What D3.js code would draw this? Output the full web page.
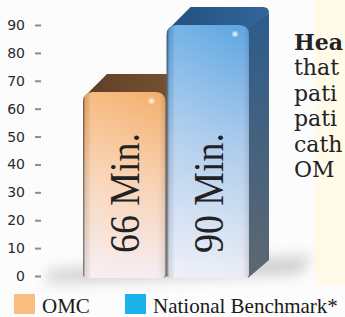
<!DOCTYPE html>
<html>
<head>
<meta charset="utf-8">
<script src="https://cdn.jsdelivr.net/npm/d3@7"></script>
<style>
  body { margin: 0; background: #fcfcfc; }
  svg { display: block; }
</style>
</head>
<body>
<div id="chart"></div>
<script>
// data
var categories = ["OMC", "National Benchmark*"];
var values = [66, 90];
var barLabels = ["66 Min.", "90 Min."];
var yTicks = [0, 10, 20, 30, 40, 50, 60, 70, 80, 90];
var sideText = [["Hea", true], ["that", false], ["pati", false], ["pati", false], ["cath", false], ["OM", false]];

var width = 345, height = 317;
var depth = [20, -18];

var svg = d3.select("#chart").append("svg")
    .attr("width", width)
    .attr("height", height);

var defs = svg.append("defs");

// background
svg.append("rect").attr("width", width).attr("height", height).attr("fill", "#fcfcfc");
svg.append("rect").attr("x", 315).attr("y", 0).attr("width", 30).attr("height", 285).attr("fill", "#fffbe8");

// scales
var x = d3.scaleBand().domain(categories).range([83, 249]).paddingInner(0.015);
var y = d3.scaleLinear().domain([0, 90]).range([276, 25]);

// color sets for each bar
var palette = {
    "OMC": {
        legend: "#f9bf80",
        front: ["#f5b06c", "#f8cfae", "#f6edf1"],
        top: ["#5e4028", "#7a5434"],
        side: ["#7a5434", "#6b5d58"]
    },
    "National Benchmark*": {
        legend: "#1cb2ea",
        front: ["#5ea6e2", "#a9c9ec", "#eceef6"],
        top: ["#23507e", "#31669a"],
        side: ["#2c5c8c", "#5e6870"]
    }
};

// gradients
categories.forEach(function(c, i) {
    var p = palette[c];
    var g = defs.append("linearGradient").attr("id", "front" + i)
        .attr("x1", 0).attr("y1", 0).attr("x2", 0).attr("y2", 1);
    g.append("stop").attr("offset", "0%").attr("stop-color", p.front[0]);
    g.append("stop").attr("offset", "45%").attr("stop-color", p.front[1]);
    g.append("stop").attr("offset", "100%").attr("stop-color", p.front[2]);

    var t = defs.append("linearGradient").attr("id", "top" + i)
        .attr("x1", 0).attr("y1", 0).attr("x2", 1).attr("y2", 0);
    t.append("stop").attr("offset", "0%").attr("stop-color", p.top[0]);
    t.append("stop").attr("offset", "100%").attr("stop-color", p.top[1]);

    var s = defs.append("linearGradient").attr("id", "side" + i)
        .attr("x1", 0).attr("y1", 0).attr("x2", 0).attr("y2", 1);
    s.append("stop").attr("offset", "0%").attr("stop-color", p.side[0]);
    s.append("stop").attr("offset", "100%").attr("stop-color", p.side[1]);
});

var edge = defs.append("linearGradient").attr("id", "edge")
    .attr("x1", 0).attr("y1", 0).attr("x2", 1).attr("y2", 0);
edge.append("stop").attr("offset", "0%").attr("stop-color", "#000").attr("stop-opacity", 0.55);
edge.append("stop").attr("offset", "3%").attr("stop-color", "#000").attr("stop-opacity", 0.08);
edge.append("stop").attr("offset", "10%").attr("stop-color", "#fff").attr("stop-opacity", 0.15);
edge.append("stop").attr("offset", "88%").attr("stop-color", "#fff").attr("stop-opacity", 0);
edge.append("stop").attr("offset", "100%").attr("stop-color", "#000").attr("stop-opacity", 0.12);

var blur = defs.append("filter").attr("id", "blur").attr("x", "-50%").attr("y", "-50%")
    .attr("width", "200%").attr("height", "200%");
blur.append("feGaussianBlur").attr("stdDeviation", 7);

var soft = defs.append("filter").attr("id", "soft");
soft.append("feGaussianBlur").attr("stdDeviation", 1.2);

// floor shadow
svg.append("path")
    .attr("d", "M50,270 L" + (x.range()[1] + 15) + ",258 L312,256 L300,274 L" + x.range()[0] + ",282 L45,282 Z")
    .attr("fill", "#8a8a8a")
    .attr("opacity", 0.4)
    .attr("filter", "url(#blur)");

// y axis
var yAxis = d3.axisLeft(y).tickValues(yTicks).tickSize(6).tickPadding(10);
var axisG = svg.append("g")
    .attr("transform", "translate(41,0)")
    .call(yAxis);
axisG.select(".domain").remove();
axisG.selectAll(".tick line").attr("stroke", "#8c8c8c").attr("stroke-width", 2);
axisG.selectAll(".tick text")
    .attr("fill", "#2a2a2a")
    .style("font-family", "'DejaVu Sans', Verdana, sans-serif")
    .style("font-size", "14px");

// bars
var r = 10;
function frontPath(x0, x1, yT, yB) {
    return "M" + x0 + "," + (yT + r) +
        " Q" + x0 + "," + yT + " " + (x0 + r) + "," + yT +
        " L" + (x1 - r) + "," + yT +
        " Q" + x1 + "," + yT + " " + x1 + "," + (yT + r) +
        " L" + x1 + "," + (yB - 4) +
        " Q" + x1 + "," + yB + " " + (x1 - 4) + "," + yB +
        " L" + (x0 + 4) + "," + yB +
        " Q" + x0 + "," + yB + " " + x0 + "," + (yB - 4) + " Z";
}

var bars = svg.selectAll("g.bar")
    .data(categories)
    .enter().append("g")
    .attr("class", "bar");

bars.each(function(c, i) {
    var g = d3.select(this);
    var x0 = x(c), x1 = x(c) + x.bandwidth();
    var yT = y(values[i]), yB = y(0) + 2;
    var dx = depth[0], dy = depth[1];

    // top face
    g.append("path")
        .attr("d", "M" + (x0 + 2) + "," + (yT + 4) +
            " L" + (x0 + dx + 4) + "," + (yT + dy) +
            " L" + (x1 + dx - 6) + "," + (yT + dy) +
            " Q" + (x1 + dx) + "," + (yT + dy) + " " + (x1 + dx) + "," + (yT + dy + 6) +
            " L" + x1 + "," + (yT + 6) + " Z")
        .attr("fill", "url(#top" + i + ")");

    // right side face
    g.append("path")
        .attr("d", "M" + (x1 - 1) + "," + (yT + 4) +
            " L" + (x1 + dx) + "," + (yT + dy + 6) +
            " L" + (x1 + dx) + "," + (yB + dy) +
            " L" + (x1 - 1) + "," + yB + " Z")
        .attr("fill", "url(#side" + i + ")");

    // front face
    g.append("path").attr("d", frontPath(x0, x1, yT, yB)).attr("fill", "url(#front" + i + ")");
    g.append("path").attr("d", frontPath(x0, x1, yT, yB)).attr("fill", "url(#edge)");

    // highlight
    g.append("circle")
        .attr("cx", x1 - 14).attr("cy", yT + 9).attr("r", 2.5)
        .attr("fill", "#fff").attr("opacity", 0.9)
        .attr("filter", "url(#soft)");

    // value label
    g.append("text")
        .attr("transform", "translate(" + (x0 + x.bandwidth() / 2) + ",193) rotate(-90)")
        .attr("text-anchor", "middle")
        .attr("dy", "0.35em")
        .attr("textLength", 120)
        .attr("lengthAdjust", "spacingAndGlyphs")
        .attr("fill", "#222")
        .style("font-family", "'Liberation Serif', 'Times New Roman', serif")
        .style("font-size", "42px")
        .text(barLabels[i]);
});

// side paragraph fragment (cropped at the right edge, as in the original)
svg.selectAll("text.side")
    .data(sideText)
    .enter().append("text")
    .attr("class", "side")
    .attr("x", 294)
    .attr("y", function(d, i) { return 50 + i * 25.4; })
    .attr("fill", "#222")
    .style("font-family", "'DejaVu Serif', serif")
    .style("font-size", "22px")
    .style("font-weight", function(d) { return d[1] ? "bold" : "normal"; })
    .text(function(d) { return d[0]; });

// legend
var legendX = [14, 125];
var legend = svg.selectAll("g.legend")
    .data(categories)
    .enter().append("g")
    .attr("class", "legend")
    .attr("transform", function(d, i) { return "translate(" + legendX[i] + ",294)"; });

legend.append("rect")
    .attr("width", 21).attr("height", 20)
    .attr("fill", function(d) { return palette[d].legend; });

legend.append("text")
    .attr("x", 28).attr("y", 19)
    .attr("fill", "#1a1a1a")
    .style("font-family", "'Liberation Serif', serif")
    .style("font-size", "21px")
    .text(function(d) { return d; });
</script>
</body>
</html>
